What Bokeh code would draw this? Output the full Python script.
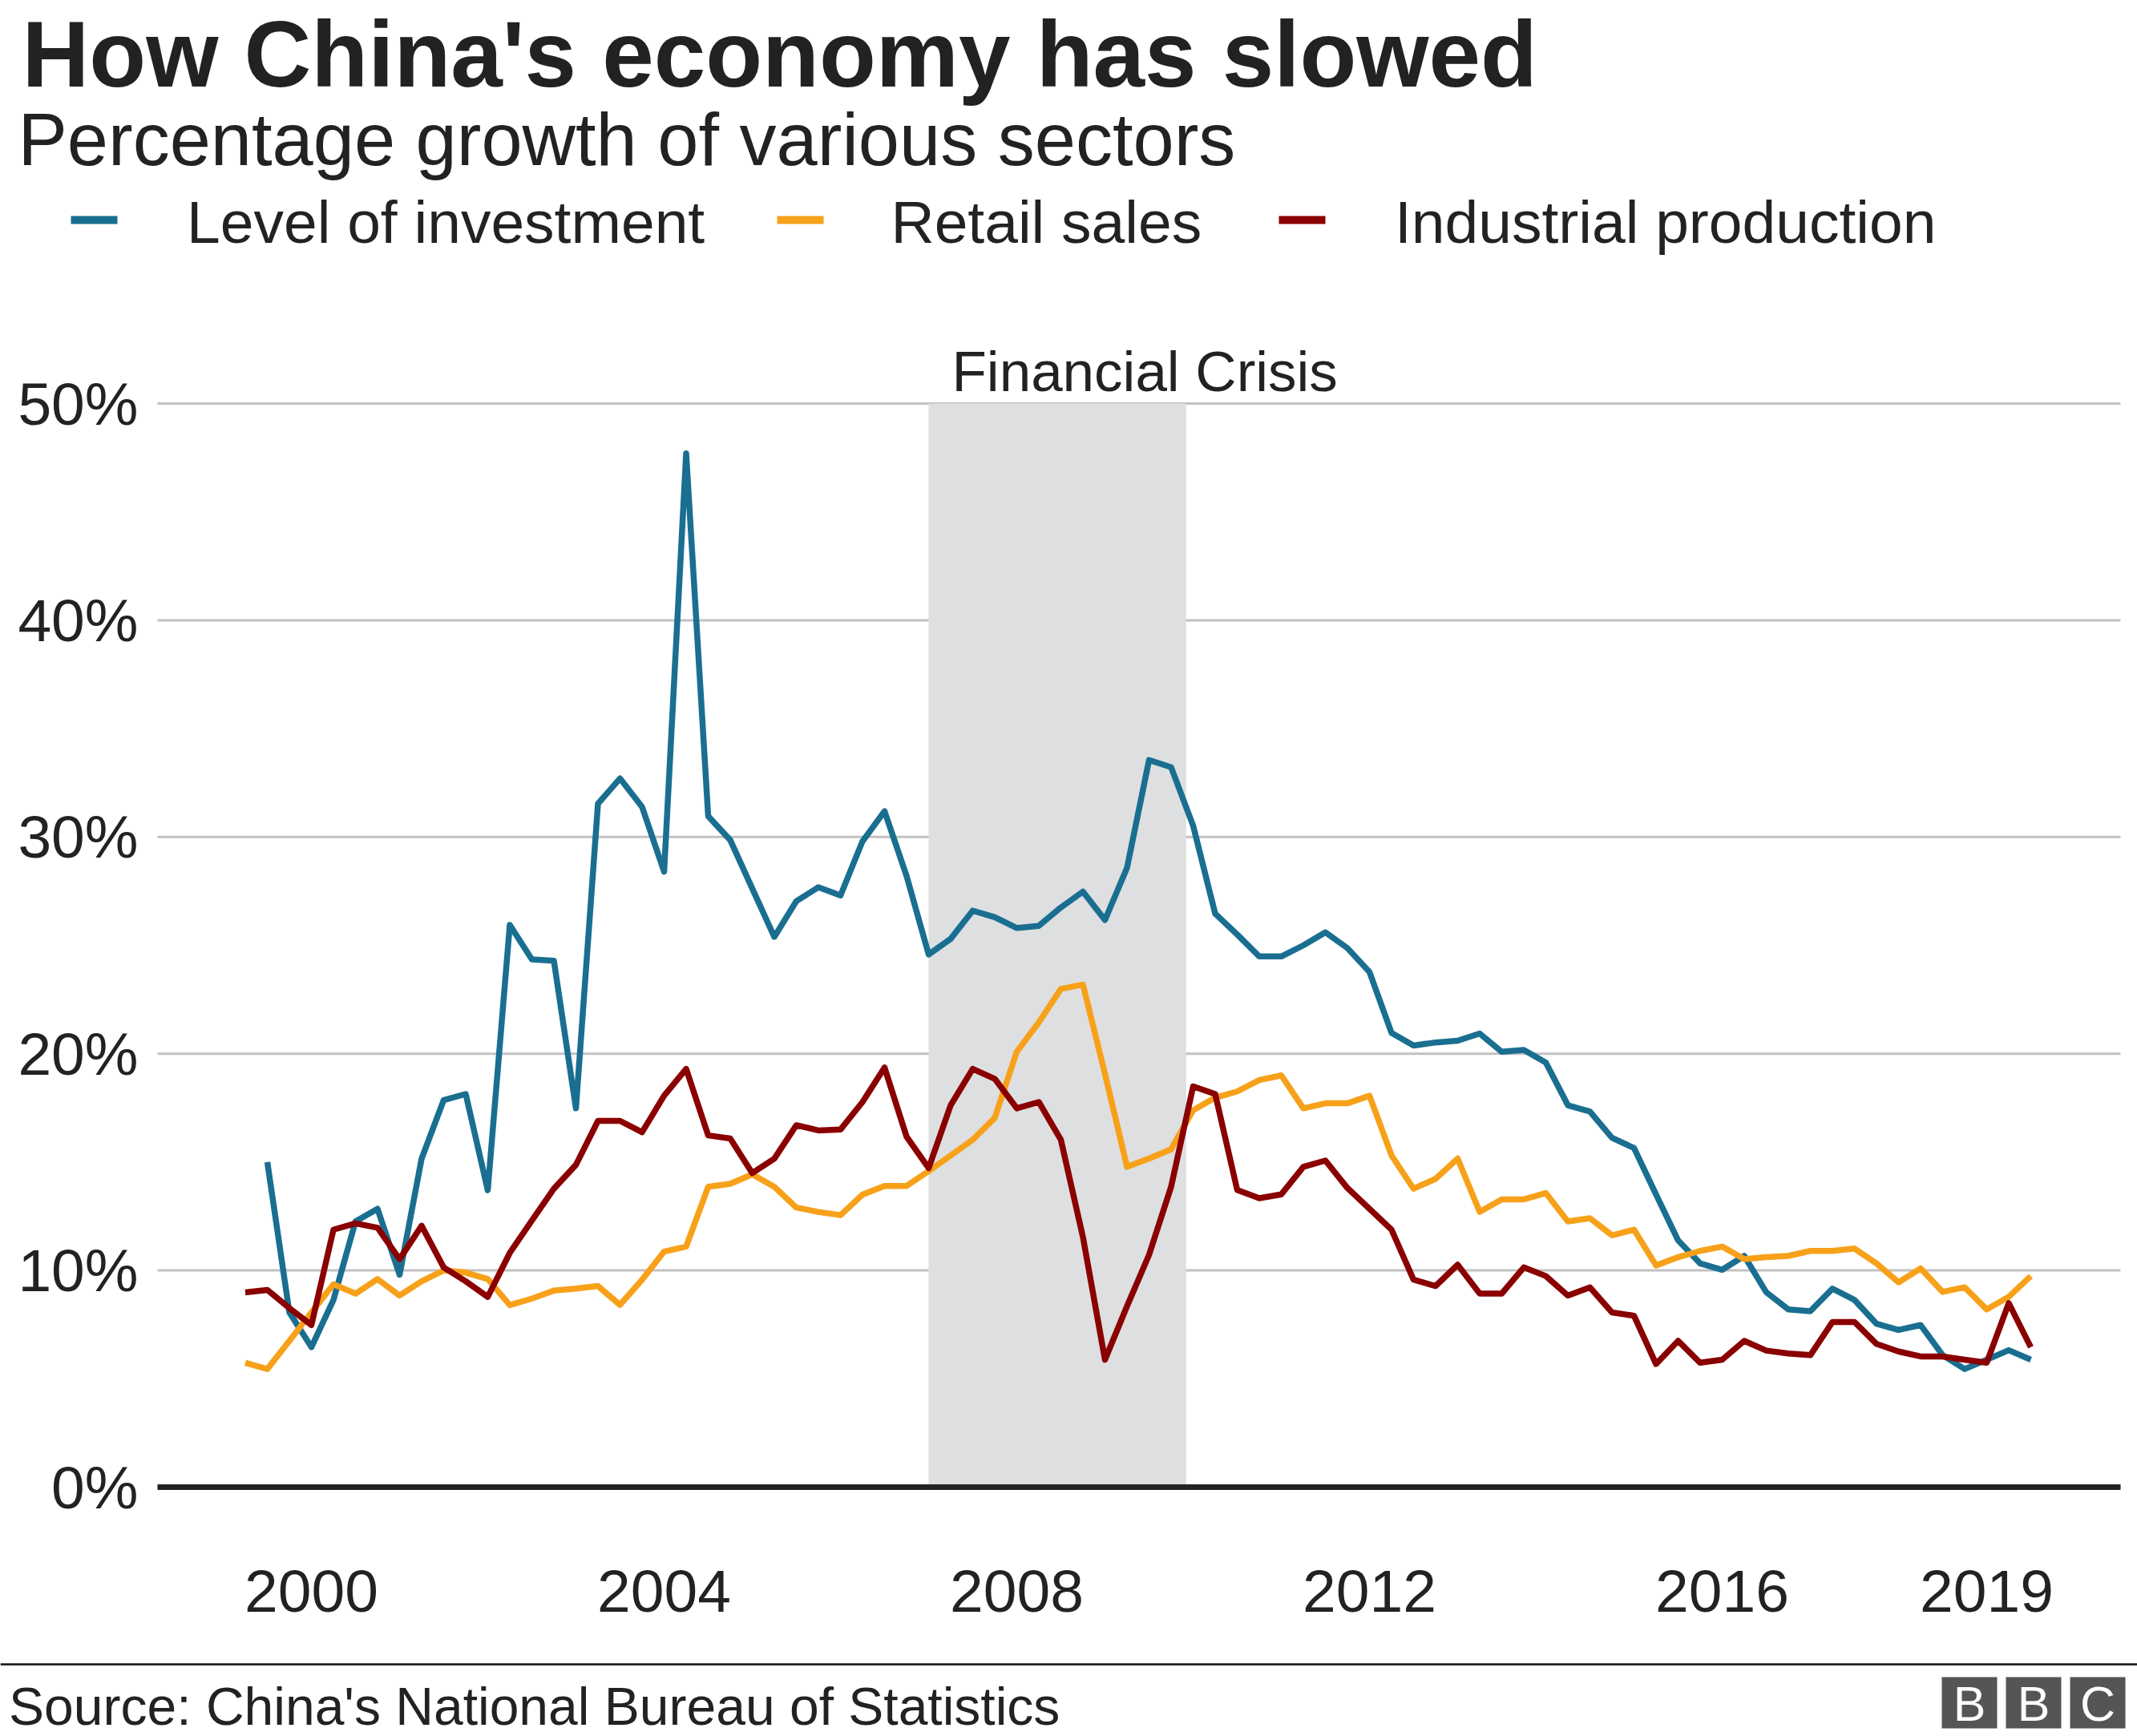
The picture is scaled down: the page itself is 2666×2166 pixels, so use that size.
from bokeh.plotting import figure
from bokeh.models import Range1d, FixedTicker, PrintfTickFormatter, LinearAxis
from bokeh.embed import file_html
from bokeh.resources import INLINE
from bokeh.core.properties import value
import pandas as pd

# ---------------- data ----------------
quarters = [str(q) for q in pd.period_range("1999Q1", "2019Q2", freq="Q")]

investment = [None, 15.0, 8.06, 6.46, 8.64, 12.26, 12.84, 9.8, 15.16, 17.86,
              18.14, 13.7, 25.94, 24.35, 24.29, 17.48, 31.54, 32.7, 31.39, 28.4,
              47.7, 30.96, 29.86, 27.62, 25.39, 27.04, 27.68, 27.3, 29.8, 31.19,
              28.2, 24.58, 25.3, 26.6, 26.3, 25.8, 25.9, 26.75, 27.48, 26.17,
              28.58, 33.55, 33.22, 30.52, 26.46, 25.5, 24.49, 24.49, 25.0, 25.6,
              24.87, 23.77, 20.96, 20.38, 20.52, 20.6, 20.93, 20.09, 20.17, 19.59,
              17.62, 17.33, 16.12, 15.65, 13.5, 11.39, 10.32, 10.03, 10.67, 8.99,
              8.2, 8.12, 9.16, 8.64, 7.54, 7.25, 7.48, 6.09, 5.45, 5.88,
              6.32, 5.88]

retail = [5.74, 5.45, 6.75, 8.06, 9.36, 8.93, 9.6, 8.84, 9.5, 10.0,
          9.9, 9.6, 8.4, 8.7, 9.07, 9.16, 9.28, 8.41, 9.57, 10.87,
          11.1, 13.86, 14.0, 14.43, 13.86, 12.9, 12.7, 12.55, 13.5, 13.9,
          13.9, 14.58, 15.3, 16.03, 17.04, 20.09, 21.45, 22.99, 23.19, 19.07,
          14.78, 15.16, 15.59, 17.39, 17.97, 18.26, 18.78, 19.0, 17.48, 17.71,
          17.71, 18.06, 15.3, 13.77, 14.23, 15.16, 12.7, 13.28, 13.28, 13.57,
          12.26, 12.41, 11.62, 11.88, 10.23, 10.61, 10.9, 11.1, 10.52, 10.61,
          10.67, 10.9, 10.9, 11.01, 10.32, 9.45, 10.09, 9.01, 9.22, 8.2,
          8.78, 9.74]

industrial = [8.99, 9.1, 8.26, 7.48, 11.88, 12.17, 11.97, 10.52, 12.06, 10.14,
              9.5, 8.78, 10.81, 12.3, 13.77, 14.87, 16.9, 16.9, 16.38, 18.06,
              19.3, 16.23, 16.09, 14.49, 15.16, 16.7, 16.46, 16.5, 17.77, 19.36,
              16.17, 14.72, 17.62, 19.3, 18.84, 17.48, 17.77, 16.03, 11.54, 5.88,
              8.35, 10.72, 13.86, 18.49, 18.14, 13.71, 13.33, 13.51, 14.78, 15.07,
              13.8, 12.84, 11.88, 9.57, 9.28, 10.26, 8.93, 8.93, 10.14, 9.74,
              8.84, 9.22, 8.06, 7.91, 5.68, 6.75, 5.74, 5.88, 6.75, 6.3,
              6.17, 6.09, 7.62, 7.62, 6.61, 6.26, 6.03, 6.03, 5.88, 5.74,
              8.49, 6.46]

series_names = ["Level of investment", "Retail sales", "Industrial production"]
x_ticks = [2000, 2004, 2008, 2012, 2016, 2019]
y_ticks = [0, 10, 20, 30, 40, 50]
crisis_start, crisis_end = 2007.0, 2009.92
crisis_label = "Financial Crisis"

# quarter-end positions in decimal years
xq = [int(q[:4]) + int(q[-1]) / 4 for q in quarters]

BLUE = "#1A6F91"
ORANGE = "#F7A11A"
RED = "#8A0000"
TXT = "#222222"
GRID = "#C2C2C2"
FONT = "Liberation Sans"

# ---------------- page geometry (pixels) ----------------
W, H = 2666, 2166
PLOT_L, PLOT_R, PLOT_B = 196, 2645, 1888
YEAR2000_PX, PX_PER_YEAR = 388.0, 110.0
ZERO_PX, PX_PER_PCT = 1855.0, 27.04
BASE_SHIFT = 0.34  # baseline correction (in em)
LW = 7.5


def dx(px):
    return 2000 + (px - YEAR2000_PX) / PX_PER_YEAR


def dy(py):
    return (ZERO_PX - py) / PX_PER_PCT


p = figure(width=W, height=H, x_range=Range1d(dx(0), dx(W)), y_range=Range1d(dy(H), dy(0)),
           output_backend="svg", toolbar_location=None, title=None, min_border=0,
           x_axis_location=None, y_axis_location=None, outline_line_color=None)
p.grid.visible = False

# horizontal grid lines at the y ticks
n = len(y_ticks)
p.segment(x0=[dx(PLOT_L)] * n, x1=[dx(PLOT_R)] * n, y0=y_ticks, y1=y_ticks,
          line_color=GRID, line_width=3)

# crisis shading
p.quad(left=[crisis_start], right=[crisis_end], bottom=[0], top=[50],
       fill_color="#DEDFE0", line_color=None)

# zero line
p.segment(x0=[dx(PLOT_L)], x1=[dx(PLOT_R)], y0=[0], y1=[0], line_color=TXT, line_width=7)

# series
xi = [x for x, v in zip(xq, investment) if v is not None]
vi = [v for v in investment if v is not None]
p.line(xi, vi, line_color=BLUE, line_width=LW, line_join="round")
p.line(xq, retail, line_color=ORANGE, line_width=LW, line_join="round")
p.line(xq, industrial, line_color=RED, line_width=LW, line_join="round")

# axes, drawn at fixed locations inside the page
yax = LinearAxis(ticker=FixedTicker(ticks=y_ticks), formatter=PrintfTickFormatter(format="%d%%"),
                 fixed_location=dx(PLOT_L), major_label_standoff=18)
xax = LinearAxis(ticker=FixedTicker(ticks=x_ticks), fixed_location=dy(PLOT_B),
                 major_label_standoff=65)
for ax in (xax, yax):
    ax.axis_line_color = None
    ax.major_tick_line_color = None
    ax.minor_tick_line_color = None
    ax.major_label_text_font = FONT
    ax.major_label_text_font_size = "75px"
    ax.major_label_text_color = TXT
p.add_layout(yax, "left")
p.add_layout(xax, "below")


def text(px, py, s, size, **kw):
    opts = dict(text_font=value(FONT), text_font_size="%dpx" % size, text_color=TXT,
                text_baseline="alphabetic")
    opts.update(kw)
    p.text(x=[dx(px)], y=[dy(py - BASE_SHIFT * size)], text=[s], **opts)


def box(l, t, r, b, color):
    p.quad(left=[dx(l)], right=[dx(r)], top=[dy(t)], bottom=[dy(b)],
           fill_color=color, line_color=None)


text(1187, 487, crisis_label, 71)

# header
text(27, 107, "How China's economy has slowed", 116, text_font_style="bold")
text(22, 205, "Percentage growth of various sectors", 92)
for (ml, tl), col, name in zip([(88, 232.5), (969, 1111), (1595, 1739.5)],
                               [BLUE, ORANGE, RED], series_names):
    box(ml, 269, ml + 58, 279, col)
    text(tl, 302, name, 75)

# footer
box(0, 2074.8, W, 2077.6, TXT)
text(10.6, 2151, "Source: China's National Bureau of Statistics", 66)
for bl, letter in zip([2422, 2502, 2582], ["B", "B", "C"]):
    box(bl, 2092, bl + 69, 2156, "#555555")
    text(bl + 34.5, 2146, letter, 61, text_color="white", text_align="center")

open("out.html", "w").write(file_html(p, INLINE))
